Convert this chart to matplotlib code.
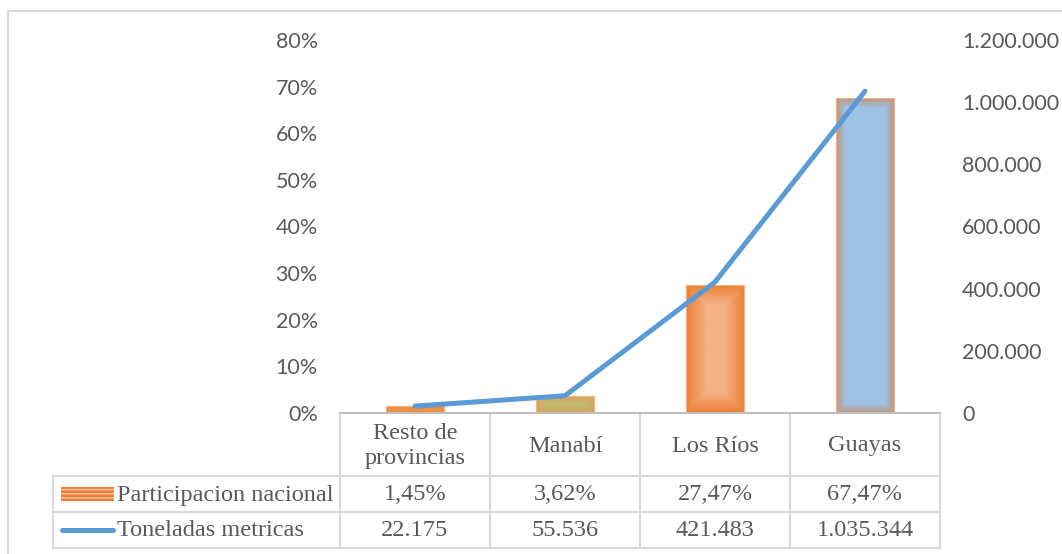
"""Participacion nacional y toneladas metricas por provincia (barras + linea + tabla de datos)."""
import numpy as np
import matplotlib
matplotlib.use("Agg")
import matplotlib.pyplot as plt
from matplotlib.patches import Rectangle
from matplotlib.colors import to_rgb

# Data
provincias = ["Resto de\nprovincias", "Manabí", "Los Ríos", "Guayas"]
participacion = [1.45, 3.62, 27.47, 67.47]          # %
toneladas = [22175, 55536, 421483, 1035344]         # t
serie_barras = "Participacion nacional"
serie_linea = "Toneladas metricas"

# Styles: (edge colour, centre colour, fade in px, outline)
bar_styles = [
    ("#EC8234", "#F19544", 3, "#F4B183"),
    ("#DCA257", "#BDB96F", 8, "#F4B183"),
    ("#ED7D31", "#F4B183", 20, "#F4B183"),
    ("#BF967E", "#9DC3E6", 10, "#F4B183"),
]
GRID = "#D9D9D9"
TXT = "#595959"
BLUE = "#5B9BD5"
TICKFONT = ["Lato", "DejaVu Sans"]
TABFONT = ["Liberation Serif", "DejaVu Serif"]
TABSIZE = 17.5

W, H = 1062, 554
L, R, T, B = 340, 940, 40, 413
fig = plt.figure(figsize=(W / 100, H / 100), dpi=100)
ax = fig.add_axes([L / W, 1 - B / H, (R - L) / W, (B - T) / H])
ax2 = ax.twinx()

x = np.arange(len(provincias))
bw = 0.39
bars = ax.bar(x, participacion, width=bw, color="none", linewidth=0.8, zorder=2)

# gradient fills clipped to each bar
px_x = (R - L) / len(provincias)
px_y = (B - T) / 80
for b, (edge, center, fade, outline) in zip(bars, bar_styles):
    b.set_edgecolor(outline)
    nx = int(round(bw * px_x))
    ny = max(int(round(b.get_height() * px_y)), 2)
    i = np.arange(nx)
    j = np.arange(ny)
    dx = np.minimum(i + 0.5, nx - 0.5 - i)
    dy = np.minimum(j + 0.5, ny - 0.5 - j)
    d = np.minimum(dx[None, :], dy[:, None])
    t = np.clip(d / fade, 0, 1)[..., None]
    img = np.array(to_rgb(edge)) * (1 - t) + np.array(to_rgb(center)) * t
    im = ax.imshow(img, extent=(b.get_x(), b.get_x() + bw, 0, b.get_height()),
                   aspect="auto", interpolation="bilinear", zorder=1.5)
    im.set_clip_path(b)

ax.set_xlim(-0.5, len(provincias) - 0.5)
ax.set_ylim(0, 80)
ax.set_yticks(range(0, 81, 10))
ax.set_yticklabels([f"{v}%" for v in range(0, 81, 10)])
ax.set_xticks([])

ax2.plot(x, toneladas, color=BLUE, lw=3.6, solid_capstyle="round",
         solid_joinstyle="round", zorder=3)
ax2.set_ylim(0, 1200000)
ax2.set_yticks(range(0, 1200001, 200000))
ax2.set_yticklabels([f"{v:,}".replace(",", ".") for v in range(0, 1200001, 200000)])

for a in (ax, ax2):
    a.tick_params(axis="y", length=0, pad=16, labelsize=15.5, labelcolor=TXT)
    for lab in a.get_yticklabels():
        lab.set_family(TICKFONT)
    for s in a.spines.values():
        s.set_visible(False)
    a.patch.set_visible(False)
ax.spines["bottom"].set_visible(True)
ax.spines["bottom"].set_color("#BFBFBF")
ax.spines["bottom"].set_linewidth(1.5)

# Data table + outer frame drawn in pixel space
ov = fig.add_axes([0, 0, 1, 1])
ov.set_xlim(0, W)
ov.set_ylim(H, 0)
ov.axis("off")

ov.plot([8, 8], [11, H], color=GRID, lw=1.5)
ov.plot([8, W], [11, 11], color=GRID, lw=1.5)

col_edges = [L + k * px_x for k in range(len(provincias) + 1)]
for xe in col_edges:
    ov.plot([xe, xe], [415, 548], color=GRID, lw=1.5)
ov.plot([53, 53], [476, 548], color=GRID, lw=1.5)
for ye in (476, 512, 548):
    ov.plot([53, R], [ye, ye], color=GRID, lw=1.5)

for k, name in enumerate(provincias):
    cx = L + (k + 0.5) * px_x
    ov.text(cx, 446, name, ha="center", va="center", fontsize=TABSIZE,
            family=TABFONT, color=TXT, linespacing=1.2)
    ov.text(cx, 495, f"{participacion[k]:.2f}%".replace(".", ","), ha="center",
            va="center", fontsize=TABSIZE, family=TABFONT, color=TXT)
    ov.text(cx, 531, f"{toneladas[k]:,}".replace(",", "."), ha="center",
            va="center", fontsize=TABSIZE, family=TABFONT, color=TXT)

# legend keys inside the table
ov.add_patch(Rectangle((61, 487), 53, 14, facecolor="#ED7D31", edgecolor="#F8CBAD",
                       hatch="----", lw=0))
ov.plot([62, 113], [530, 530], color=BLUE, lw=3.6, solid_capstyle="round")
ov.text(117, 495, serie_barras, ha="left", va="center", fontsize=TABSIZE,
        family=TABFONT, color=TXT)
ov.text(117, 531, serie_linea, ha="left", va="center", fontsize=TABSIZE,
        family=TABFONT, color=TXT)

fig.savefig("out.png", dpi=100)
